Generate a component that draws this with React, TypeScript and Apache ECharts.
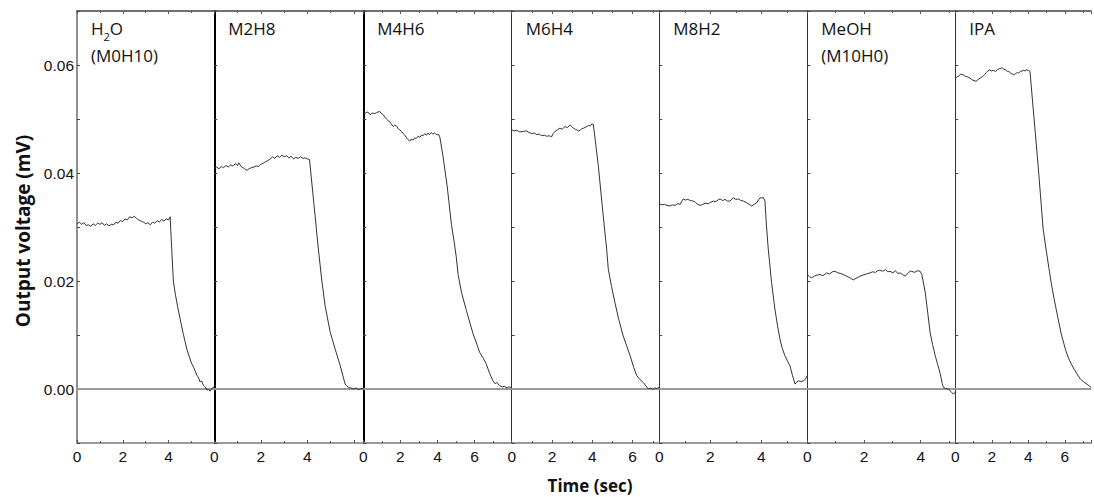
import React, { useEffect, useRef } from "react";
import * as echarts from "echarts";

// ---------- data ----------
const panelNames = ["H2O (M0H10)", "M2H8", "M4H6", "M6H4", "M8H2", "MeOH (M10H0)", "IPA"];
const xMax = [6, 6.4, 8, 7.32, 5.8, 5.22, 7.43];
const xLabelMax = [4, 4, 6, 6, 4, 4, 6];
const yMin = -0.01;
const yMax = 0.07;
const yTickStep = 0.01;
const yAxisTitle = "Output voltage (mV)";
const xAxisTitle = "Time (sec)";

const h2o: [number, number][] = [
  [0, 0.0306], [0.1, 0.0309], [0.2, 0.0305], [0.3, 0.0308], [0.4, 0.0303], [0.5, 0.0304], [0.6, 0.0301],
  [0.7, 0.0306], [0.8, 0.0303], [0.9, 0.0307], [1.0, 0.0305], [1.1, 0.0308], [1.2, 0.0303], [1.3, 0.0306],
  [1.4, 0.0302], [1.5, 0.0305], [1.6, 0.0304], [1.7, 0.0309], [1.8, 0.0307], [1.9, 0.0312], [2.0, 0.031],
  [2.1, 0.0315], [2.2, 0.0313], [2.3, 0.0319], [2.4, 0.0317], [2.5, 0.032], [2.6, 0.0316], [2.7, 0.0313],
  [2.8, 0.0311], [2.9, 0.0309], [3.0, 0.0306], [3.1, 0.0308], [3.2, 0.0304], [3.3, 0.0309], [3.4, 0.0307],
  [3.5, 0.0312], [3.6, 0.0309], [3.7, 0.0314], [3.8, 0.0311], [3.9, 0.0315], [4.0, 0.0313], [4.07, 0.0319],
  [4.14, 0.0259], [4.21, 0.02], [4.3, 0.0175], [4.4, 0.0152], [4.51, 0.0129], [4.65, 0.0101], [4.8, 0.0074],
  [5.0, 0.0048], [5.1, 0.004], [5.24, 0.0025], [5.3, 0.0022], [5.38, 0.0013], [5.45, 0.0015], [5.52, 0.0007],
  [5.6, 0.0004], [5.68, -0.0002], [5.75, -0.0001], [5.82, -0.0004], [5.91, 0.0002], [6.0, 0.0004],
];
const m2h8: [number, number][] = [
  [0, 0.0409], [0.1, 0.0411], [0.2, 0.0408], [0.3, 0.0412], [0.4, 0.041], [0.5, 0.0414], [0.6, 0.0411],
  [0.7, 0.0415], [0.8, 0.0413], [0.9, 0.0417], [1.0, 0.0414], [1.05, 0.0419], [1.15, 0.0412], [1.3, 0.0408],
  [1.4, 0.0405], [1.5, 0.0408], [1.6, 0.041], [1.7, 0.0411], [1.8, 0.0413], [1.9, 0.0412], [2.0, 0.0416],
  [2.1, 0.0418], [2.2, 0.0421], [2.3, 0.0423], [2.4, 0.0426], [2.5, 0.043], [2.6, 0.0427], [2.7, 0.0432],
  [2.8, 0.0429], [2.9, 0.0433], [3.0, 0.043], [3.1, 0.0432], [3.2, 0.0428], [3.3, 0.0431], [3.4, 0.0426],
  [3.5, 0.0429], [3.6, 0.0427], [3.7, 0.043], [3.8, 0.0427], [3.9, 0.0428], [4.0, 0.0426], [4.09, 0.0425],
  [4.28, 0.0342], [4.47, 0.0259], [4.62, 0.02], [4.76, 0.0154], [4.98, 0.0105], [5.19, 0.0074], [5.41, 0.0043],
  [5.52, 0.0025], [5.62, 0.0009], [5.69, 0.0006], [5.76, 0.0003], [5.85, 0.0002], [5.98, 0], [6.1, 0.0002],
  [6.2, -0.0001], [6.34, 0.0001], [6.41, 0],
];
const m4h6: [number, number][] = [
  [0, 0.0514], [0.12, 0.0511], [0.24, 0.0513], [0.36, 0.0508], [0.5, 0.0511], [0.62, 0.051], [0.72, 0.0512],
  [0.8, 0.0513], [0.89, 0.0514], [0.98, 0.051], [1.07, 0.0508], [1.17, 0.0503], [1.25, 0.05], [1.34, 0.0497],
  [1.43, 0.0495], [1.52, 0.049], [1.61, 0.0486], [1.7, 0.0489], [1.79, 0.0487], [1.88, 0.0482], [1.97, 0.048],
  [2.06, 0.0477], [2.15, 0.0473], [2.24, 0.047], [2.32, 0.0466], [2.41, 0.0462], [2.5, 0.0459], [2.59, 0.0463],
  [2.68, 0.0461], [2.77, 0.0465], [2.86, 0.0464], [2.95, 0.0468], [3.05, 0.0466], [3.14, 0.047], [3.22, 0.0469],
  [3.31, 0.0473], [3.4, 0.047], [3.49, 0.0474], [3.57, 0.0471], [3.66, 0.0475], [3.75, 0.0472], [3.84, 0.0474],
  [3.95, 0.0471], [4.07, 0.0471], [4.13, 0.0466], [4.3, 0.043], [4.52, 0.0376], [4.75, 0.0305], [4.9, 0.0272],
  [5.01, 0.0245], [5.11, 0.0212], [5.3, 0.0178], [5.56, 0.0145], [5.75, 0.0122], [5.92, 0.0102], [6.1, 0.0085],
  [6.27, 0.0068], [6.45, 0.0058], [6.63, 0.0046], [6.8, 0.003], [6.99, 0.0015], [7.1, 0.001], [7.2, 0.0012],
  [7.35, 0.0006], [7.5, 0.0004], [7.6, 0.0005], [7.75, 0.0002], [7.85, 0.0004], [7.97, 0.0003],
];
const m6h4: [number, number][] = [
  [0, 0.048], [0.12, 0.0478], [0.25, 0.0479], [0.4, 0.0476], [0.58, 0.0477], [0.74, 0.0478], [0.86, 0.0475],
  [0.99, 0.0473], [1.12, 0.0474], [1.24, 0.0471], [1.36, 0.0472], [1.49, 0.0469], [1.62, 0.047], [1.74, 0.0468],
  [1.86, 0.0469], [1.98, 0.0467], [2.06, 0.0473], [2.15, 0.0477], [2.27, 0.048], [2.39, 0.0483], [2.5, 0.0481],
  [2.64, 0.0486], [2.76, 0.0484], [2.89, 0.0489], [2.98, 0.0486], [3.06, 0.0483], [3.15, 0.0481], [3.23, 0.048],
  [3.31, 0.0478], [3.39, 0.0479], [3.47, 0.0482], [3.56, 0.0483], [3.68, 0.0485], [3.81, 0.0488], [3.9, 0.0487],
  [3.97, 0.0491], [4.05, 0.049], [4.3, 0.0412], [4.54, 0.032], [4.71, 0.0259], [4.79, 0.0222], [4.95, 0.019],
  [5.12, 0.016], [5.3, 0.013], [5.53, 0.0098], [5.7, 0.008], [5.87, 0.0062], [6.05, 0.004], [6.2, 0.0025],
  [6.35, 0.0018], [6.53, 0.0012], [6.65, 0.0006], [6.78, 0], [6.9, 0.0002], [7.0, -0.0001], [7.1, 0.0002],
  [7.19, 0.0001], [7.32, 0.0003],
];
const m8h2: [number, number][] = [
  [0, 0.0343], [0.1, 0.0341], [0.2, 0.0342], [0.3, 0.034], [0.42, 0.0339], [0.52, 0.0341], [0.62, 0.034],
  [0.72, 0.0343], [0.82, 0.0342], [0.9, 0.0349], [0.94, 0.0352], [1.02, 0.035], [1.12, 0.0351], [1.22, 0.0349],
  [1.33, 0.0348], [1.42, 0.0346], [1.5, 0.0342], [1.6, 0.034], [1.7, 0.0342], [1.8, 0.0344], [1.92, 0.0343],
  [2.02, 0.0346], [2.12, 0.0348], [2.22, 0.0347], [2.3, 0.035], [2.38, 0.0352], [2.48, 0.0349], [2.58, 0.0351],
  [2.68, 0.0348], [2.77, 0.0348], [2.85, 0.0352], [2.9, 0.0354], [3.0, 0.0351], [3.1, 0.0352], [3.2, 0.0349],
  [3.3, 0.0348], [3.42, 0.0345], [3.52, 0.0342], [3.62, 0.0339], [3.72, 0.0342], [3.82, 0.0345], [3.9, 0.0351],
  [3.95, 0.0354], [4.08, 0.0354], [4.14, 0.0348], [4.2, 0.0302], [4.27, 0.0259], [4.4, 0.0197], [4.53, 0.0148],
  [4.63, 0.0118], [4.73, 0.0092], [4.82, 0.0075], [4.92, 0.0062], [5.02, 0.0052], [5.12, 0.0043], [5.22, 0.0025],
  [5.32, 0.0009], [5.38, 0.0013], [5.45, 0.0015], [5.55, 0.0014], [5.64, 0.0015], [5.72, 0.0018], [5.8, 0.0025],
];
const meoh: [number, number][] = [
  [0, 0.0212], [0.08, 0.0208], [0.15, 0.0206], [0.25, 0.0209], [0.35, 0.0211], [0.45, 0.0212], [0.55, 0.021],
  [0.68, 0.0215], [0.78, 0.0213], [0.88, 0.0217], [0.98, 0.0218], [1.08, 0.0215], [1.18, 0.0214], [1.27, 0.0212],
  [1.38, 0.0209], [1.5, 0.0206], [1.62, 0.0202], [1.72, 0.0205], [1.8, 0.0207], [1.86, 0.0209], [1.96, 0.0211],
  [2.08, 0.0213], [2.21, 0.0215], [2.3, 0.0217], [2.4, 0.0216], [2.48, 0.0219], [2.56, 0.022], [2.66, 0.0218],
  [2.76, 0.0221], [2.84, 0.0217], [2.92, 0.0218], [3.02, 0.0215], [3.1, 0.0219], [3.2, 0.0214], [3.27, 0.0215],
  [3.36, 0.0212], [3.45, 0.0209], [3.55, 0.0214], [3.62, 0.0218], [3.68, 0.0218], [3.78, 0.0216], [3.88, 0.0219],
  [3.98, 0.0218], [4.04, 0.0212], [4.16, 0.0179], [4.25, 0.014], [4.33, 0.0105], [4.42, 0.0082], [4.51, 0.0062],
  [4.6, 0.0045], [4.69, 0.0028], [4.76, 0.001], [4.8, 0.0003], [4.88, 0.0001], [4.98, 0], [5.05, -0.0004],
  [5.1, -0.0007], [5.15, -0.0009], [5.22, -0.0006],
];
const ipa: [number, number][] = [
  [0, 0.0576], [0.1, 0.0578], [0.2, 0.058], [0.3, 0.0583], [0.43, 0.0582], [0.55, 0.0579], [0.67, 0.0578],
  [0.79, 0.0576], [0.9, 0.0573], [1.02, 0.0571], [1.14, 0.057], [1.25, 0.0573], [1.38, 0.0576], [1.5, 0.0579],
  [1.6, 0.0582], [1.7, 0.0586], [1.78, 0.0589], [1.86, 0.0591], [1.96, 0.0589], [2.08, 0.059], [2.21, 0.0588],
  [2.3, 0.0591], [2.4, 0.0593], [2.5, 0.0594], [2.57, 0.0595], [2.66, 0.0592], [2.76, 0.0591], [2.85, 0.0588],
  [2.93, 0.0588], [3.03, 0.0585], [3.12, 0.0583], [3.2, 0.0582], [3.3, 0.0584], [3.4, 0.0586], [3.47, 0.0585],
  [3.55, 0.0588], [3.65, 0.0589], [3.75, 0.059], [3.82, 0.0589], [3.91, 0.0591], [4.0, 0.059], [4.09, 0.0588],
  [4.27, 0.0517], [4.54, 0.0412], [4.81, 0.0296], [4.98, 0.0256], [5.12, 0.0225], [5.25, 0.0197], [5.42, 0.0165],
  [5.6, 0.0135], [5.8, 0.0102], [6.05, 0.0071], [6.25, 0.0053], [6.5, 0.0037], [6.7, 0.0026], [6.86, 0.0018],
  [7.0, 0.0014], [7.21, 0.0009], [7.43, 0.0003],
];
const panelData = [h2o, m2h8, m4h6, m6h4, m8h2, meoh, ipa];

// ---------- layout ----------
const panelEdges = [77, 214.3, 363.3, 511.7, 659.3, 807.3, 955.3, 1094];
const plotTop = 11;
const plotHeight = 432;
const dividerColor = ["#8f8f8f", "#000", "#000", "#333", "#333", "#333", "#333"];
const dividerWidth = [2, 2, 2, 1, 1, 1, 1];
const FONT = "'Open Sans', 'Noto Sans', sans-serif";
const TICK_FONT = "'Liberation Sans', Arial, sans-serif";

export default function App() {
  const ref = useRef<HTMLDivElement>(null);
  useEffect(() => {
    if (!ref.current) return;
    const chart = echarts.init(ref.current, undefined, { renderer: "svg" });
    const n = panelData.length;
    const grid: any[] = [];
    const xAxis: any[] = [];
    const yAxis: any[] = [];
    const series: any[] = [];
    const graphic: any[] = [];
    for (let i = 0; i < n; i++) {
      const left = panelEdges[i];
      const width = panelEdges[i + 1] - left;
      grid.push({ left, top: plotTop, width, height: plotHeight, containLabel: false });
      const lm = xLabelMax[i];
      xAxis.push({
        type: "value",
        gridIndex: i,
        min: 0,
        max: xMax[i],
        interval: 2,
        position: "bottom",
        axisLine: { show: true, onZero: false, lineStyle: { color: "#9a9a9a", width: 2 } },
        axisTick: { show: true, inside: true, length: 3, lineStyle: { color: "#555" } },
        minorTick: { show: true, splitNumber: 2, length: 2, lineStyle: { color: "#555" } },
        splitLine: { show: false },
        axisLabel: {
          show: true,
          margin: 5,
          fontSize: 15.5,
          fontFamily: TICK_FONT,
          color: "#111",
          showMaxLabel: true,
          formatter: (v: number) => (Math.abs(v - Math.round(v)) < 1e-6 && Math.round(v) % 2 === 0 && v <= lm ? String(Math.round(v)) : ""),
        },
      });
      xAxis.push({
        type: "value",
        gridIndex: i,
        min: 0,
        max: xMax[i],
        interval: 2,
        position: "top",
        axisLine: { show: true, onZero: false, lineStyle: { color: "#444", width: 1.5 } },
        axisTick: { show: true, inside: true, length: 3, lineStyle: { color: "#555" } },
        minorTick: { show: true, splitNumber: 2, length: 2, lineStyle: { color: "#555" } },
        splitLine: { show: false },
        axisLabel: { show: false },
      });
      yAxis.push({
        type: "value",
        gridIndex: i,
        min: yMin,
        max: yMax,
        interval: yTickStep,
        axisLine: { show: true, onZero: false, lineStyle: { color: dividerColor[i], width: dividerWidth[i] } },
        axisTick: { show: true, inside: true, length: 3, lineStyle: { color: "#444" } },
        splitLine: { show: false },
        axisLabel: {
          show: i === 0,
          margin: 3,
          fontSize: 15.5,
          fontFamily: TICK_FONT,
          color: "#111",
          formatter: (v: number) => {
            const k = Math.round(v * 100);
            return k >= 0 && k <= 6 && k % 2 === 0 ? v.toFixed(2) : "";
          },
        },
      });
      series.push({
        type: "line",
        xAxisIndex: 2 * i,
        yAxisIndex: i,
        data: panelData[i],
        showSymbol: false,
        symbol: "none",
        lineStyle: { color: "#333", width: 1 },
        z: 3,
        markLine: {
          silent: true,
          symbol: "none",
          label: { show: false },
          lineStyle: { color: "#9a9a9a", width: 2, type: "solid" },
          data: [{ yAxis: 0 }],
          z: 2,
        },
      });
      // panel label
      const lx = left + 14;
      if (i === 0) {
        graphic.push({
          type: "text",
          x: lx,
          y: 15.5,
          style: {
            text: "{n|H}{s|2}{n|O}\n{n|(M0H10)}",
            fill: "#111",
            align: "left",
            verticalAlign: "top",
            rich: {
              n: { fontSize: 17, fontFamily: FONT, lineHeight: 26.5, fill: "#111" },
              s: { fontSize: 11, fontFamily: FONT, lineHeight: 17.5, verticalAlign: "bottom", fill: "#111" },
            },
          },
        });
      } else {
        const name = panelNames[i].replace(" (", "\n(");
        graphic.push({
          type: "text",
          x: lx,
          y: 15.5,
          style: {
            text: name,
            fill: "#111",
            fontSize: 17,
            fontFamily: FONT,
            lineHeight: 26.5,
            align: "left",
            verticalAlign: "top",
          },
        });
      }
    }
    graphic.push({
      type: "text",
      x: 23,
      y: 231,
      rotation: Math.PI / 2,
      style: {
        text: yAxisTitle,
        fill: "#111",
        fontSize: 19,
        fontWeight: "bold",
        fontFamily: FONT,
        align: "center",
        verticalAlign: "middle",
      },
    });
    graphic.push({
      type: "text",
      x: 590,
      y: 485,
      style: {
        text: xAxisTitle,
        fill: "#111",
        fontSize: 17,
        fontWeight: "bold",
        fontFamily: FONT,
        align: "center",
        verticalAlign: "middle",
      },
    });
    chart.setOption({
      animation: false,
      backgroundColor: "#fff",
      grid,
      xAxis,
      yAxis,
      series,
      graphic,
    });
    return () => chart.dispose();
  }, []);
  return (
    <div
      ref={ref}
      style={{ position: "absolute", left: 0, top: 0, width: 1094, height: 497 }}
    />
  );
}
